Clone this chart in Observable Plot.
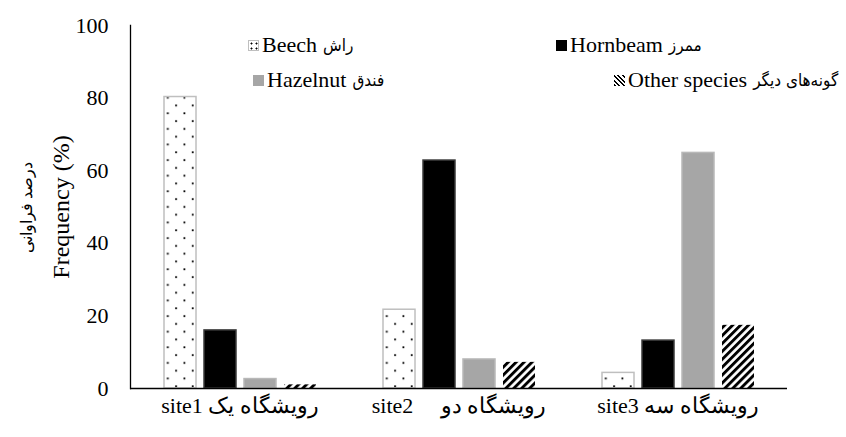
<!DOCTYPE html>
<html><head><meta charset="utf-8">
<script src="https://cdn.jsdelivr.net/npm/d3@7"></script>
<script src="https://cdn.jsdelivr.net/npm/@observablehq/plot@0.6"></script>
<style>
body{margin:0;background:#fff;}
#wrap{position:relative;width:846px;height:437px;font-family:"Liberation Serif","Times New Roman",serif;color:#000;}
#wrap svg{font-family:"Liberation Serif","Times New Roman",serif;}
.leg{position:absolute;font-family:'Liberation Serif',serif;font-weight:400;font-size:22px;line-height:22px;white-space:nowrap;display:flex;align-items:center;}
.leg .en{font-family:'Liberation Serif',serif;font-weight:400;}
.leg .fa{font-family:"DejaVu Sans Condensed","DejaVu Sans",sans-serif;font-size:17px;margin-left:6px;}
.sw{width:11px;height:11px;display:inline-block;margin-right:3px;box-sizing:border-box;}
</style></head><body><div id="wrap"></div>
<script>
const sites = ["site1", "site2", "site3"];
const siteLabels = ["site1 رویشگاه یک", "site2\u00a0\u00a0\u00a0\u00a0 رویشگاه دو", "site3 رویشگاه سه"];
const species = ["Beech", "Hornbeam", "Hazelnut", "Other"];
const speciesLabelsEn = ["Beech", "Hornbeam", "Hazelnut", "Other species"];
const speciesLabelsFa = ["راش", "ممرز", "فندق", "گونه‌های دیگر"];
const beech = [80.3, 21.7, 4.3];
const hornbeam = [16.0, 62.8, 13.2];
const hazelnut = [2.6, 8.0, 64.9];
const other = [1.0, 7.2, 17.4];
const yTicks = [0, 20, 40, 60, 80, 100];

const seriesValues = [beech, hornbeam, hazelnut, other];
const fills = ["url(#dots)", "#000000", "#a6a6a6", "url(#stripes)"];
const strokes = ["#bfbfbf", "#3a3a3a", "#b8b8b8", "none"];

const data = [];
species.forEach((sp, j) => sites.forEach((s, i) => data.push({site: s, species: sp, value: seriesValues[j][i]})));

const barMarks = species.map((sp, j) => Plot.barY(data.filter(d => d.species === sp), {
  fx: "site", x: "species", y: "value", fill: fills[j], stroke: strokes[j], strokeWidth: 1.5
}));

const chart = Plot.plot({
  width: 846, height: 437,
  marginLeft: 130, marginRight: 59, marginTop: 25, marginBottom: 49,
  style: {fontFamily: "Liberation Serif, Times New Roman, serif", background: "#fff", color: "#000"},
  fx: {domain: sites, padding: 0, label: null},
  x: {domain: species, paddingInner: 0.2, paddingOuter: 0.8375, axis: null},
  y: {domain: [0, 100]},
  marks: [
    ...barMarks,
    Plot.ruleY([0], {stroke: "#000", strokeWidth: 1.5}),
    Plot.frame({anchor: "left", facetAnchor: "left", stroke: "#000", strokeWidth: 1.3}),
    Plot.axisY({ticks: yTicks, tickSize: 0, tickPadding: 22, fontSize: 22, label: null}),
    Plot.axisY({ticks: [], label: "Frequency (%)", labelArrow: "none", labelAnchor: "center", labelOffset: 79, fontSize: 24}),
    Plot.axisY({ticks: [], label: "درصد فراوانی", labelArrow: "none", labelAnchor: "center", labelOffset: 110, fontSize: 16}),
    Plot.axisFx({anchor: "bottom", tickSize: 0, tickPadding: 9, fontSize: 22, label: null,
      tickFormat: d => siteLabels[sites.indexOf(d)]})
  ]
});

// patterns
const ns = "http://www.w3.org/2000/svg";
const defs = document.createElementNS(ns, "defs");
defs.innerHTML = `
<pattern id="dots" patternUnits="userSpaceOnUse" width="16.6" height="15.6" x="163.5" y="0">
  <rect width="16.6" height="15.6" fill="#fff"/>
  <rect x="3.4" y="3.2" width="1.8" height="1.8" fill="#000"/>
  <rect x="11.7" y="11" width="1.8" height="1.8" fill="#000"/>
</pattern>
<pattern id="stripes" patternUnits="userSpaceOnUse" width="5.6" height="5.6" patternTransform="rotate(45)">
  <rect width="5.6" height="5.6" fill="#fff"/>
  <rect width="2.9" height="5.6" fill="#000"/>
</pattern>`;
chart.insertBefore(defs, chart.firstChild);

const wrap = document.getElementById("wrap");
wrap.appendChild(chart);

// legend (HTML overlay)
const legPos = [[248, 34], [556, 34], [253, 69], [614, 69]];
const swStyles = [
  "border:1.5px solid #bfbfbf;background:#fff radial-gradient(circle,#000 0.8px,transparent 1.2px) 0 0/5px 5px;",
  "background:#000;",
  "background:#a6a6a6;",
  "background:repeating-linear-gradient(45deg,#000 0 1.6px,#fff 1.6px 3.2px);"
];
species.forEach((sp, j) => {
  const el = document.createElement("div");
  el.className = "leg";
  el.style.left = legPos[j][0] + "px";
  el.style.top = legPos[j][1] + "px";
  el.innerHTML = `<span class="sw" style="${swStyles[j]}"></span><span class="en">${speciesLabelsEn[j]}</span><span class="fa">${speciesLabelsFa[j]}</span>`;
  wrap.appendChild(el);
});
</script></body></html>
